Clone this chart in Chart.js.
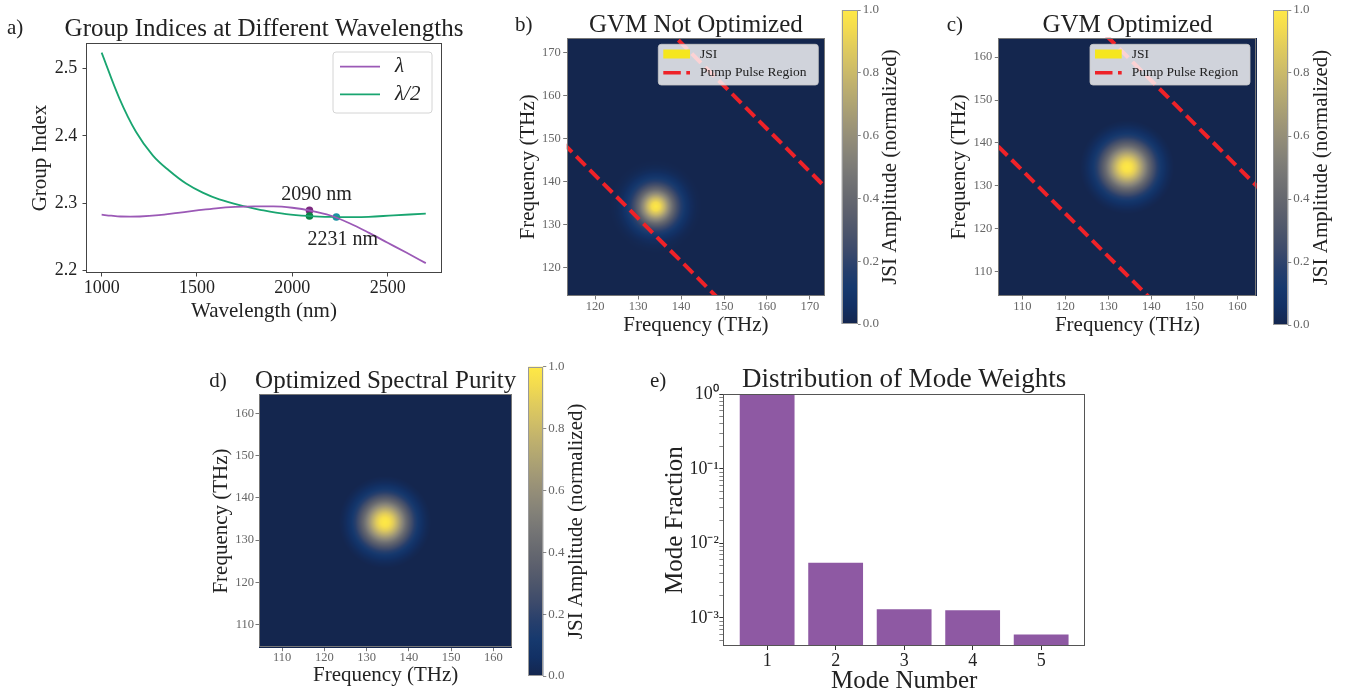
<!DOCTYPE html>
<html>
<head>
<meta charset="utf-8">
<title>Group indices, JSI maps and mode weights</title>
<script src="https://cdn.jsdelivr.net/npm/chart.js@4.4.1/dist/chart.umd.min.js"></script>
<style>
  body { margin: 0; background: #fff; }
  #page { position: relative; width: 1351px; height: 696px; overflow: hidden; background: #fff; }
  canvas { position: absolute; }
</style>
</head>
<body>
<div id="page">
  <canvas id="groupIndex" width="475" height="340" style="left:0px;top:0px"></canvas>
  <canvas id="jsiB" width="330" height="340" style="left:505px;top:0px"></canvas>
  <canvas id="cbarB" width="75" height="340" style="left:835px;top:0px"></canvas>
  <canvas id="jsiC" width="330" height="340" style="left:940px;top:0px"></canvas>
  <canvas id="cbarC" width="89" height="340" style="left:1262px;top:0px"></canvas>
  <canvas id="jsiD" width="330" height="341" style="left:195px;top:355px"></canvas>
  <canvas id="cbarD" width="75" height="341" style="left:525px;top:355px"></canvas>
  <canvas id="modes" width="460" height="341" style="left:640px;top:355px"></canvas>
</div>
<script>
// ---- data ----

// a) group index vs wavelength
var wavelengthsFull = [1000, 1050, 1100, 1150, 1200, 1300, 1400, 1500, 1600, 1700, 1800, 1900, 2000, 2100, 2200, 2300, 2400, 2500, 2600, 2700];
var groupIndexFull = [2.2827, 2.2812, 2.2800, 2.2798, 2.2800, 2.2820, 2.2855, 2.2890, 2.2922, 2.2942, 2.2950, 2.2950, 2.2930, 2.2885, 2.2815, 2.2700, 2.2560, 2.2410, 2.2260, 2.2107];
var wavelengthsHalf = [1000, 1093, 1180, 1268, 1355, 1443, 1530, 1617, 1758, 1831, 1968, 2090, 2231, 2300, 2400, 2531, 2700];
var groupIndexHalf = [2.5238, 2.4558, 2.4060, 2.3710, 2.3480, 2.3290, 2.3155, 2.3055, 2.2946, 2.2900, 2.2836, 2.2807, 2.2792, 2.2790, 2.2795, 2.2817, 2.2842];
var markWavelengths = [2090, 2090, 2231];
var markIndices = [2.2891, 2.2807, 2.2792];
var markLabels = ['2090 nm', '2231 nm'];
var wavelengthTicks = [1000, 1500, 2000, 2500];
var groupIndexTicks = [2.2, 2.3, 2.4, 2.5];

// b) c) d) joint spectral intensity, radial profile around the peak (THz -> amplitude)
var jsiRadius = [0, 1, 2, 3, 4, 5, 6, 7, 8, 9, 10, 11];
var jsiAmpB = [1.0, 0.94, 0.78, 0.58, 0.40, 0.26, 0.16, 0.09, 0.045, 0.02, 0.006, 0];
var jsiAmpCD = [1.0, 0.97, 0.88, 0.74, 0.58, 0.42, 0.29, 0.18, 0.10, 0.05, 0.02, 0];
var jsiCenterB = [134.1, 134.3];
var jsiCenterC = [134.3, 134.4];
var jsiCenterD = [134.3, 134.3];
var pumpLowB = [[100, 161.5], [161.5, 100]];
var pumpHighB = [[130, 182.3], [182.3, 130]];
var pumpLowC = [[95, 148.6], [148.6, 95]];
var pumpHighC = [[120, 174.5], [174.5, 120]];
var freqTicksB = [120, 130, 140, 150, 160, 170];
var freqTicksCD = [110, 120, 130, 140, 150, 160];
var colorbarTicks = [0, 0.2, 0.4, 0.6, 0.8, 1.0];

// e) mode weights
var modeNumbers = [1, 2, 3, 4, 5];
var modeFractions = [0.99, 0.0055, 0.00131, 0.00127, 0.000598];
var modeFractionTicks = [0.001, 0.01, 0.1, 1];

// ---- styles ----
var purple = '#9b59b6', green = '#19a570', pumpRed = '#ee2228', barPurple = '#8e59a3';
var markColors = ['#7d2a80', '#0e8345', '#1a92a2'];
var serif = "'Liberation Serif', 'Times New Roman', serif";

Chart.defaults.font.family = serif;
Chart.defaults.color = '#222';
Chart.defaults.animation = false;

// cividis colour map
var cividis = [[20,38,78],[18,48,100],[22,57,110],[39,63,108],[60,74,107],[76,85,107],[91,95,109],[104,106,112],[117,117,117],[131,129,120],[146,140,120],[161,152,118],[176,165,114],[192,177,109],[209,191,102],[225,204,92],[243,219,79],[255,233,69]];
function cividisAt(v) {
  v = Math.max(0, Math.min(1, v));
  var p = v * (cividis.length - 1), i = Math.floor(p), f = p - i;
  var a = cividis[i], b = cividis[Math.min(i + 1, cividis.length - 1)];
  return [a[0] + (b[0] - a[0]) * f, a[1] + (b[1] - a[1]) * f, a[2] + (b[2] - a[2]) * f];
}
function profileAt(r, radii, amps) {
  for (var i = 1; i < radii.length; i++) {
    if (r < radii[i]) {
      var f = (r - radii[i - 1]) / (radii[i] - radii[i - 1]);
      return amps[i - 1] + (amps[i] - amps[i - 1]) * f;
    }
  }
  return amps[amps.length - 1];
}

// ---- helpers ----
function pairs(xs, ys) { return xs.map(function (x, i) { return {x: x, y: ys[i]}; }); }
function pts(list) { return list.map(function (p) { return {x: p[0], y: p[1]}; }); }
function fixSize(size) { return function (s) { if (s.isHorizontal()) s.height = size; else s.width = size; }; }
function useTicks(values) { return function (s) { s.ticks = values.map(function (v) { return {value: v}; }); }; }
var SUP = {'-': '\u207b', '0': '\u2070', '1': '\u00b9', '2': '\u00b2', '3': '\u00b3', '4': '\u2074', '5': '\u2075', '6': '\u2076', '7': '\u2077', '8': '\u2078', '9': '\u2079'};
function powerLabel(v) {
  var e = String(Math.round(Math.log10(v)));
  return '10' + e.split('').map(function (c) { return SUP[c]; }).join('');
}

// ---- plugins ----
function frameLayer(color, width) {
  return {
    id: 'frame',
    afterDraw: function (chart) {
      var a = chart.chartArea, ctx = chart.ctx;
      ctx.save();
      ctx.strokeStyle = color; ctx.lineWidth = width;
      ctx.strokeRect(Math.round(a.left) + 0.5, Math.round(a.top) + 0.5, Math.round(a.right - a.left) - 1, Math.round(a.bottom - a.top) - 1);
      ctx.restore();
    }
  };
}

// free text: panel letters, titles (centred over the plot), annotations
function textLayer(items) {
  return {
    id: 'extraText',
    afterDraw: function (chart) {
      var ctx = chart.ctx, a = chart.chartArea;
      items.forEach(function (t) {
        var x = t.x, y = t.y;
        if (t.data) { x = chart.scales.x.getPixelForValue(t.x); y = chart.scales.y.getPixelForValue(t.y); }
        if (t.midX) x = (a.left + a.right) / 2;
        if (t.midY) y = (a.top + a.bottom) / 2;
        ctx.save();
        ctx.translate(x, y);
        if (t.rotate) ctx.rotate(t.rotate);
        ctx.font = t.font;
        ctx.fillStyle = t.color || '#222';
        ctx.textAlign = t.align || 'left';
        ctx.textBaseline = t.baseline || 'middle';
        ctx.fillText(t.text, 0, 0);
        ctx.restore();
      });
    }
  };
}

function boxLegend(cfg) {
  return {
    id: 'boxLegend',
    afterDatasetsDraw: function (chart) {
      var a = chart.chartArea, ctx = chart.ctx;
      var x0 = a.right - cfg.right - cfg.width, y0 = a.top + cfg.top;
      ctx.save();
      ctx.beginPath();
      ctx.roundRect(x0, y0, cfg.width, cfg.height, 3);
      ctx.fillStyle = cfg.background; ctx.fill();
      ctx.strokeStyle = cfg.border; ctx.lineWidth = 1; ctx.stroke();
      cfg.items.forEach(function (it, n) {
        var y = y0 + cfg.firstRow + n * cfg.rowGap;
        var sx = x0 + cfg.sampleLeft;
        if (it.patch) {
          ctx.fillStyle = it.color;
          ctx.fillRect(sx, y - it.patch / 2, cfg.sampleWidth, it.patch);
        } else {
          ctx.strokeStyle = it.color; ctx.lineWidth = it.width;
          ctx.setLineDash(it.dash || []);
          ctx.beginPath(); ctx.moveTo(sx, y); ctx.lineTo(sx + cfg.sampleWidth, y); ctx.stroke();
          ctx.setLineDash([]);
        }
        ctx.fillStyle = '#222'; ctx.font = cfg.font;
        ctx.textAlign = 'left'; ctx.textBaseline = 'middle';
        ctx.fillText(it.label, x0 + cfg.textLeft, y);
      });
      ctx.restore();
    }
  };
}

// paints the JSI map pixel by pixel through the chart's own scales
function jsiLayer(center, radii, amps) {
  return {
    id: 'jsiMap',
    beforeDatasetsDraw: function (chart) {
      var a = chart.chartArea, xs = chart.scales.x, ys = chart.scales.y;
      var w = Math.round(a.right - a.left), h = Math.round(a.bottom - a.top);
      var off = document.createElement('canvas');
      off.width = w; off.height = h;
      var octx = off.getContext('2d');
      var img = octx.createImageData(w, h);
      for (var j = 0; j < h; j++) {
        var fy = ys.getValueForPixel(a.top + j + 0.5);
        for (var i = 0; i < w; i++) {
          var fx = xs.getValueForPixel(a.left + i + 0.5);
          var r = Math.hypot(fx - center[0], fy - center[1]);
          var c = cividisAt(profileAt(r, radii, amps));
          var k = (j * w + i) * 4;
          img.data[k] = c[0]; img.data[k + 1] = c[1]; img.data[k + 2] = c[2]; img.data[k + 3] = 255;
        }
      }
      octx.putImageData(img, 0, 0);
      chart.ctx.drawImage(off, a.left, a.top, a.right - a.left, a.bottom - a.top);
    }
  };
}

var colorbarFill = {
  id: 'colorbarFill',
  beforeDatasetsDraw: function (chart) {
    var a = chart.chartArea, ys = chart.scales.y, ctx = chart.ctx;
    var g = ctx.createLinearGradient(0, ys.getPixelForValue(0), 0, ys.getPixelForValue(1));
    cividis.forEach(function (c, i) { g.addColorStop(i / (cividis.length - 1), 'rgb(' + c.join(',') + ')'); });
    ctx.save();
    ctx.fillStyle = g;
    ctx.fillRect(a.left, a.top, a.right - a.left, a.bottom - a.top);
    ctx.restore();
  }
};

var baseOptions = function () {
  return {
    responsive: false, animation: false, events: [],
    plugins: { legend: {display: false}, tooltip: {enabled: false} }
  };
};

// ---- a) group indices ----
var optA = baseOptions();
optA.layout = { padding: {left: 0, right: 33, top: 43, bottom: 0} };
optA.scales = {
  x: { type: 'linear', min: 918, max: 2785, afterBuildTicks: useTicks(wavelengthTicks), afterFit: fixSize(67),
       ticks: { font: {size: 18, lineHeight: 1}, color: '#222', padding: 2.8, callback: function (v) { return String(v); } },
       grid: { display: true, drawOnChartArea: false, tickLength: 3.5, tickColor: '#444' }, border: {display: false},
       title: { display: true, text: 'Wavelength (nm)', font: {size: 21, lineHeight: 1}, color: '#222', padding: {bottom: 18.5} } },
  y: { type: 'linear', min: 2.196, max: 2.538, afterBuildTicks: useTicks(groupIndexTicks), afterFit: fixSize(86),
       ticks: { font: {size: 18, lineHeight: 1}, color: '#222', padding: 5.2, callback: function (v) { return v.toFixed(1); } },
       grid: { display: true, drawOnChartArea: false, tickLength: 3.5, tickColor: '#444' }, border: {display: false},
       title: { display: true, text: 'Group Index', font: {size: 21, lineHeight: 1}, color: '#222', padding: {top: 29.5} } }
};

new Chart(document.getElementById('groupIndex'), {
  type: 'scatter',
  data: {
    datasets: [
      { label: '\u03bb', data: pairs(wavelengthsFull, groupIndexFull), showLine: true, borderColor: purple, borderWidth: 1.8,
        pointRadius: 0, cubicInterpolationMode: 'monotone', clip: 0 },
      { label: '\u03bb/2', data: pairs(wavelengthsHalf, groupIndexHalf), showLine: true, borderColor: green, borderWidth: 1.8,
        pointRadius: 0, tension: 0.4, clip: 0 },
      { label: 'matches', data: pairs(markWavelengths, markIndices), showLine: false, pointRadius: 3.8,
        backgroundColor: markColors, borderWidth: 0 }
    ]
  },
  options: optA,
  plugins: [
    frameLayer('#444', 1),
    boxLegend({ right: 10, top: 9, width: 99, height: 61, background: '#fff', border: '#d4d4d4',
      firstRow: 14.7, rowGap: 27.6, sampleLeft: 7, sampleWidth: 40, textLeft: 62, font: 'italic 21px ' + serif,
      items: [ {label: '\u03bb', color: purple, width: 1.8}, {label: '\u03bb/2', color: green, width: 1.8} ] }),
    textLayer([
      {text: 'a)', x: 7, y: 28, font: '21px ' + serif},
      {text: 'Group Indices at Different Wavelengths', midX: true, y: 29, align: 'center', font: '25px ' + serif},
      {text: markLabels[0], x: 1942, y: 2.305, data: true, baseline: 'alphabetic', font: '20px ' + serif},
      {text: markLabels[1], x: 2080, y: 2.238, data: true, baseline: 'alphabetic', font: '20px ' + serif}
    ])
  ]
});

// ---- b) c) d) JSI maps ----
function freqAxis(c) {
  return {
    type: 'linear', min: c.min, max: c.max, afterBuildTicks: useTicks(c.ticks), afterFit: fixSize(c.size),
    ticks: { font: {size: 12.5, lineHeight: 1}, color: '#666', padding: c.pad, callback: function (v) { return String(v); } },
    grid: { display: true, drawOnChartArea: false, tickLength: 3.5, tickColor: '#777' }, border: {display: false},
    title: { display: true, text: 'Frequency (THz)', font: {size: 21, lineHeight: 1}, color: '#222', padding: c.titlePad }
  };
}

function jsiChart(id, cfg) {
  var o = baseOptions();
  o.layout = { padding: {left: 0, right: cfg.right, top: cfg.top, bottom: 0} };
  o.scales = {
    x: freqAxis({min: cfg.min, max: cfg.max, ticks: cfg.ticks, size: cfg.xSize, pad: cfg.xPad, titlePad: {bottom: cfg.xTitle}}),
    y: freqAxis({min: cfg.min, max: cfg.max, ticks: cfg.ticks, size: cfg.ySize, pad: cfg.yPad, titlePad: {top: cfg.yTitle}})
  };
  var sets = cfg.lines.map(function (l, k) {
    return { label: k === 0 ? 'Pump Pulse Region' : '', data: pts(l), showLine: true, borderColor: pumpRed, borderWidth: 4,
             borderDash: [13, 6], borderCapStyle: 'butt', pointRadius: 0, clip: 0 };
  });
  var layers = [jsiLayer(cfg.center, jsiRadius, cfg.amp), frameLayer('#777', 1),
    textLayer([
      {text: cfg.letter, x: cfg.letterX, y: cfg.letterY, font: '21px ' + serif},
      {text: cfg.title, midX: true, y: cfg.titleY, align: 'center', font: '25px ' + serif}
    ])];
  if (cfg.lines.length) {
    layers.push(boxLegend({ right: 6.7, top: 6.6, width: 160, height: 40.7, background: 'rgba(255,255,255,0.8)', border: 'rgba(200,200,200,0.8)',
      firstRow: 9.7, rowGap: 18.7, sampleLeft: 5, sampleWidth: 26.7, textLeft: 41.7, font: '13.5px ' + serif,
      items: [ {label: 'JSI', color: '#f5e61e', patch: 9}, {label: 'Pump Pulse Region', color: pumpRed, width: 3.5, dash: [17.5, 5.5]} ] }));
  }
  new Chart(document.getElementById(id), { type: 'scatter', data: {datasets: sets}, options: o, plugins: layers });
}

function colorbar(id, cfg) {
  var o = baseOptions();
  o.layout = { padding: {left: cfg.left, right: 0, top: cfg.top, bottom: cfg.bottom} };
  o.scales = {
    x: { type: 'linear', display: false, min: 0, max: 1 },
    y: { type: 'linear', position: 'right', min: 0, max: 1, afterBuildTicks: useTicks(colorbarTicks), afterFit: fixSize(cfg.axis),
         ticks: { font: {size: 13, lineHeight: 1}, color: '#666', padding: 2, callback: function (v) { return v.toFixed(1); } },
         grid: { display: true, drawOnChartArea: false, tickLength: 3, tickColor: '#888' }, border: {display: false} }
  };
  new Chart(document.getElementById(id), {
    type: 'scatter', data: {datasets: []}, options: o,
    plugins: [colorbarFill, frameLayer('#999', 1),
      textLayer([{text: 'JSI Amplitude (normalized)', x: cfg.titleX, midY: true, rotate: -Math.PI / 2, align: 'center', font: '21px ' + serif}])]
  });
}

jsiChart('jsiB', { title: 'GVM Not Optimized', titleY: 25, letter: 'b)', letterX: 10, letterY: 25, right: 10, top: 37.7,
  min: 113.4, max: 173.5, ticks: freqTicksB,
  xSize: 44, ySize: 61.7, xPad: 1, yPad: 2.5, xTitle: 4.5, yTitle: 12.8,
  center: jsiCenterB, amp: jsiAmpB, lines: [pumpLowB, pumpHighB] });
colorbar('cbarB', { left: 6.7, top: 10, bottom: 16, axis: 52.3, titleX: 55 });

jsiChart('jsiC', { title: 'GVM Optimized', titleY: 25, letter: 'c)', letterX: 6.7, letterY: 25, right: 13.3, top: 37.7,
  min: 104.4, max: 164.5, ticks: freqTicksCD,
  xSize: 44, ySize: 58.3, xPad: 1, yPad: 2.5, xTitle: 4.5, yTitle: 8.8,
  center: jsiCenterC, amp: jsiAmpCD, lines: [pumpLowC, pumpHighC] });
colorbar('cbarC', { left: 11.3, top: 10, bottom: 15, axis: 62.7, titleX: 59.7 });

jsiChart('jsiD', { title: 'Optimized Spectral Purity', titleY: 26.7, letter: 'd)', letterX: 14.3, letterY: 26.7, right: 12.7, top: 39.3,
  min: 104.5, max: 164.5, ticks: freqTicksCD,
  xSize: 48.3, ySize: 64, xPad: 0.3, yPad: 1.5, xTitle: 10.5, yTitle: 16.2,
  center: jsiCenterD, amp: jsiAmpCD, lines: [] });
colorbar('cbarD', { left: 3.3, top: 11.7, bottom: 20, axis: 56.7, titleX: 51.7 });

// ---- e) mode weights ----
var optE = baseOptions();
optE.layout = { padding: {left: 0, right: 15, top: 39.3, bottom: 0} };
optE.scales = {
  x: { type: 'linear', min: 0.36, max: 5.64, offset: false, afterBuildTicks: useTicks(modeNumbers), afterFit: fixSize(50),
       ticks: { font: {size: 18, lineHeight: 1}, color: '#222', padding: 2, callback: function (v) { return String(v); } },
       grid: { display: true, offset: false, drawOnChartArea: false, tickLength: 4, tickColor: '#333' }, border: {display: false},
       title: { display: true, text: 'Mode Number', font: {size: 25, lineHeight: 1}, color: '#222', padding: {bottom: 1.8} } },
  y: { type: 'logarithmic', min: 0.00042, max: 1, afterFit: fixSize(83.3),
       afterBuildTicks: function (s) {
         var t = [];
         for (var e = -4; e <= 0; e++) {
           for (var k = 1; k < 10; k++) {
             var v = k * Math.pow(10, e);
             if (v >= s.min * 0.999 && v <= s.max * 1.001) t.push({value: v, major: k === 1 && modeFractionTicks.indexOf(v) >= 0});
           }
         }
         s.ticks = t;
       },
       ticks: { autoSkip: false, font: {size: 18, lineHeight: 1}, color: '#222', padding: 0.5,
                callback: function (v, i, ticks) { return ticks[i].major ? powerLabel(v) : ''; } },
       grid: { display: true, drawOnChartArea: false, tickLength: 4, tickColor: '#333',
               tickWidth: function (c) { return c.tick && c.tick.major ? 1 : 0.6; } },
       border: {display: false},
       title: { display: true, text: 'Mode Fraction', font: {size: 25, lineHeight: 1}, color: '#222', padding: {top: 22.5} } }
};

new Chart(document.getElementById('modes'), {
  type: 'bar',
  data: { datasets: [ { label: 'Mode fraction', data: pairs(modeNumbers, modeFractions), backgroundColor: barPurple,
                        borderWidth: 0, barPercentage: 0.8, categoryPercentage: 1.0 } ] },
  options: optE,
  plugins: [frameLayer('#555', 1), textLayer([
    {text: 'e)', x: 10, y: 26.7, font: '21px ' + serif},
    {text: 'Distribution of Mode Weights', midX: true, y: 25.3, align: 'center', font: '27px ' + serif}
  ])]
});
</script>
</body>
</html>
